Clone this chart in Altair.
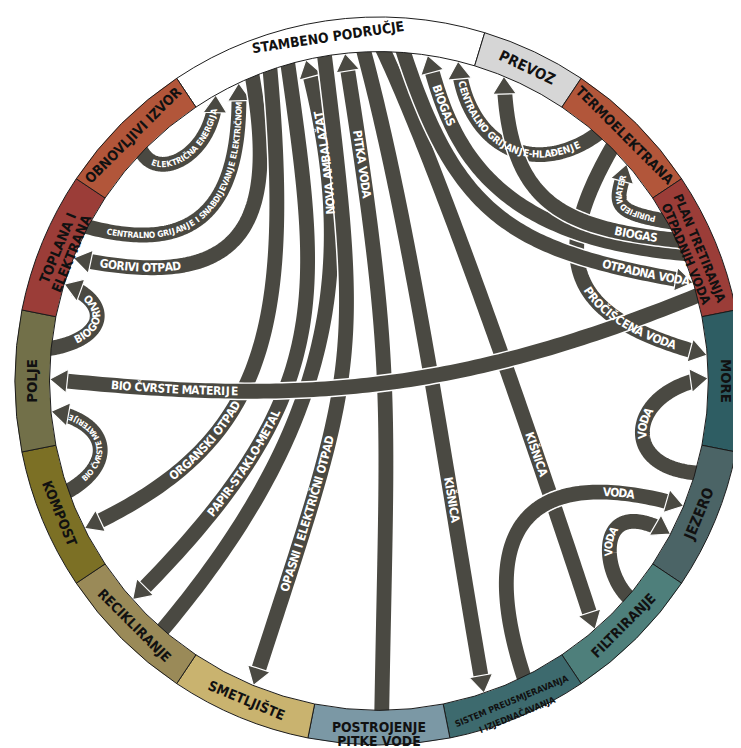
import math
import altair as alt
import pandas as pd

# ---------------- data ----------------
node_text = ["STAMBENO PODRUČJE", "PREVOZ", "TERMOELEKTRANA", "PLAN TRETIRANJA\nOTPADNIH VODA",
             "MORE", "JEZERO", "FILTRIRANJE", "SISTEM PREUSMJERAVANJA\nI IZJEDNAČAVANJA",
             "POSTROJENJE\nPITKE VODE", "SMETLJIŠTE", "RECIKLIRANJE", "KOMPOST", "POLJE",
             "TOPLANA I\nELEKTRANA", "OBNOVLJIVI IZVOR"]
node_colors = ["#ffffff", "#d6d6d6", "#b2563a", "#9b3d38", "#2e5d63", "#4b6466", "#4e7f7b",
               "#3d6a6e", "#7b98a5", "#c9b36f", "#9a8a58", "#7c7025", "#727049", "#9b3d38", "#b2563a"]
node_start = [326.25, 16.9, 33.75, 56.25, 78.75, 101.25, 123.75, 146.25, 168.75,
              191.25, 213.75, 236.25, 258.75, 281.25, 303.75]
node_font = [14, 15, 14, 13, 15, 15, 14, 9, 14, 14, 14, 14, 15, 14, 14]

flow_label = ["CENTRALNO GRIJANJE-HLAĐENJE", "PURIFIED WATER", "ELEKTRIČNA ENERGIJA",
              "CENTRALNO GRIJANJE I SNABDIJEVANJE ELEKTRIČNOM", "BIOGORIVO", "BIO ČVRSTE MATERIJE",
              "GORIVI OTPAD", "ORGANSKI OTPAD", "PAPIR-STAKLO-METAL", "NOVA AMBALAŽAT",
              "OPASNI I ELEKTRIČNI OTPAD", "PITKA VODA", "KIŠNICA", "KIŠNICA", "PROČIŠĆENA VODA",
              "OTPADNA VODA", "BIOGAS", "BIOGAS", "BIO ČVRSTE MATERIJE", "VODA", "VODA", "VODA"]
flow_source = ["TERMOELEKTRANA", "PLAN TRETIRANJA", "OBNOVLJIVI IZVOR", "TOPLANA I ELEKTRANA", "POLJE",
               "KOMPOST", "STAMBENO PODRUČJE", "STAMBENO PODRUČJE", "STAMBENO PODRUČJE", "RECIKLIRANJE",
               "STAMBENO PODRUČJE", "POSTROJENJE PITKE VODE", "STAMBENO PODRUČJE", "STAMBENO PODRUČJE",
               "TERMOELEKTRANA", "STAMBENO PODRUČJE", "PLAN TRETIRANJA", "PLAN TRETIRANJA",
               "PLAN TRETIRANJA", "JEZERO", "FILTRIRANJE", "SISTEM PREUSMJERAVANJA"]
flow_target = ["STAMBENO PODRUČJE", "TERMOELEKTRANA", "STAMBENO PODRUČJE", "STAMBENO PODRUČJE",
               "TOPLANA I ELEKTRANA", "POLJE", "TOPLANA I ELEKTRANA", "KOMPOST", "RECIKLIRANJE",
               "STAMBENO PODRUČJE", "SMETLJIŠTE", "STAMBENO PODRUČJE", "SISTEM PREUSMJERAVANJA",
               "FILTRIRANJE", "MORE", "PLAN TRETIRANJA", "STAMBENO PODRUČJE", "PREVOZ", "POLJE",
               "MORE", "JEZERO", "JEZERO"]

# ---------------- layout (ring angles, handle directions/lengths) ----------------
lay_a0 = [41.5, 61.0, 314.0, 297.9, 275.7, 250.5, 337.4, 340.7, 343.96, 221.0, 350.5, 179.5,
          357.4, 0.86, 45.0, 4.3, 67.2, 64.7, 75.0, 106.2, 130.9, 153.9]
lay_a1 = [13.9, 48.8, 330.3, 334.8, 287.1, 264.7, 291.9, 243.4, 228.4, 347.2, 202.4, 354.1,
          161.4, 139.0, 85.5, 72.6, 8.5, 22.3, 270.3, 89.5, 117.7, 112.3]
lay_d0 = [145, 190, 60, 15, -10, -30, 80, 85, 82, -50, 83, -89, 75, 65, 120, 72, 185, 186, 158, 185, 225, -108]
lay_l0 = [84, 62, 35, 110, 58, 58, 160, 275, 243, 267, 322, 321, 195, 150, 146, 181, 206, 119, 260, 80, 40, 151]
lay_d1 = [-95, -75, -88, -92, 200, 190, 192, 155, 135, -105, 108, -99, 80, 72, 15, 10, -105, -92, 186, -8, 30, 16]
lay_l1 = [81, 40, 60, 130, 52, 58, 170, 197, 290, 214, 339, 325, 193, 144, 131, 180, 82, 128, 260, 80, 87, 172]
lay_t = [0.5, 0.5, 0.5, 0.5, 0.5, 0.5, 0.8, 0.72, 0.7, 0.83, 0.72, 0.83, 0.7, 0.7, 0.7, 0.88, 0.85, 0.15,
         0.81, 0.5, 0.45, 0.8]
lay_fs = [10, 8.5, 8.5, 8.5, 11, 8, 12, 12, 12, 12, 12, 12, 12, 12, 12, 12, 12, 12, 12, 12, 11, 12]
lay_rev = [1, 0, 0, 0, 0, 0, 1, 1, 1, 0, 1, 1, 0, 0, 0, 0, 1, 1, 1, 0, 0, 0]

CX, CY = 383.0, 381.0
R_OUT, R_IN = 368.0, 333.0
FLOW_COLOR = "#4a4942"
FONT = "Liberation Sans Narrow, Arial Narrow, DejaVu Sans Condensed, sans-serif"
XS = alt.Scale(domain=[8, 741], nice=False, zero=False)
YS = alt.Scale(domain=[8, 748], nice=False, zero=False, reverse=True)

CW = {'A': 722, 'B': 722, 'C': 722, 'D': 722, 'E': 667, 'F': 611, 'G': 778, 'H': 722, 'I': 278,
      'J': 556, 'K': 722, 'L': 611, 'M': 833, 'N': 722, 'O': 778, 'P': 667, 'Q': 778, 'R': 722,
      'S': 667, 'T': 611, 'U': 722, 'V': 667, 'W': 944, 'X': 667, 'Y': 667, 'Z': 611, ' ': 278, '-': 333}
BASE = {'Č': 'C', 'Ć': 'C', 'Š': 'S', 'Ž': 'Z', 'Đ': 'D'}


def cw(ch):
    return CW.get(BASE.get(ch, ch), 600) / 1000 * 0.82


def ring_pt(a, r):
    t = math.radians(a)
    return (CX + r * math.sin(t), CY - r * math.cos(t))


def unit(d):
    r = math.radians(d)
    return (math.cos(r), math.sin(r))


def bez(p0, p1, p2, p3, n=400):
    pts = []
    for i in range(n + 1):
        t = i / n
        m = 1 - t
        a, b, c, d = m ** 3, 3 * m * m * t, 3 * m * t * t, t ** 3
        pts.append((a * p0[0] + b * p1[0] + c * p2[0] + d * p3[0],
                    a * p0[1] + b * p1[1] + c * p2[1] + d * p3[1]))
    return pts


def cumlen(pts):
    c = [0.0]
    for i in range(1, len(pts)):
        c.append(c[-1] + math.hypot(pts[i][0] - pts[i - 1][0], pts[i][1] - pts[i - 1][1]))
    return c


def at(pts, cum, s):
    s = max(0.0, min(cum[-1], s))
    for i in range(1, len(cum)):
        if cum[i] >= s:
            seg = cum[i] - cum[i - 1]
            f = 0 if seg == 0 else (s - cum[i - 1]) / seg
            x = pts[i - 1][0] + f * (pts[i][0] - pts[i - 1][0])
            y = pts[i - 1][1] + f * (pts[i][1] - pts[i - 1][1])
            d = math.degrees(math.atan2(pts[i][1] - pts[i - 1][1], pts[i][0] - pts[i - 1][0]))
            return x, y, d
    x, y = pts[-1]
    return x, y, 0.0


layers = []
chars = []
ARROW = "M0,-1L1,0.5L-1,0.5Z"
for i in range(len(flow_label)):
    p0 = ring_pt(lay_a0[i], R_IN)
    p3 = ring_pt(lay_a1[i], R_IN)
    u0, u1 = unit(lay_d0[i]), unit(lay_d1[i])
    p1 = (p0[0] + lay_l0[i] * u0[0], p0[1] + lay_l0[i] * u0[1])
    p2 = (p3[0] - lay_l1[i] * u1[0], p3[1] - lay_l1[i] * u1[1])
    pts = bez(p0, p1, p2, p3)
    cum = cumlen(pts)
    L = cum[-1]
    shaft = [(p0[0] - 6 * u0[0], p0[1] - 6 * u0[1])]
    for k in range(0, len(pts), 4):
        if cum[k] <= L - 12:
            shaft.append(pts[k])
    ex, ey, _ = at(pts, cum, L - 12)
    shaft.append((ex, ey))
    sdf = pd.DataFrame({"x": [p[0] for p in shaft], "y": [p[1] for p in shaft],
                        "o": list(range(len(shaft)))})
    enc = dict(x=alt.X("x:Q", scale=XS, axis=None), y=alt.Y("y:Q", scale=YS, axis=None),
               order="o:Q")
    layers.append(alt.Chart(sdf).mark_line(color="white", strokeWidth=18, strokeCap="butt",
                                           strokeJoin="round").encode(**enc))
    layers.append(alt.Chart(sdf).mark_line(color=FLOW_COLOR, strokeWidth=15, strokeCap="butt",
                                           strokeJoin="round").encode(**enc))
    adf = pd.DataFrame({"x": [p3[0] - 12 * u1[0]], "y": [p3[1] - 12 * u1[1]],
                        "ang": [(lay_d1[i] + 90) % 360]})
    layers.append(alt.Chart(adf).mark_point(shape=ARROW, size=576, filled=True, fill=FLOW_COLOR,
                                            stroke="white", strokeWidth=1.2, opacity=1).encode(
        x=alt.X("x:Q", scale=XS, axis=None), y=alt.Y("y:Q", scale=YS, axis=None),
        angle=alt.Angle("ang:Q", scale=None)))
    # label characters along the path
    fs = lay_fs[i]
    track = 0.07 * fs
    txt = flow_label[i]
    ws = [cw(c) * fs + track for c in txt]
    W = sum(ws) - track
    rev = lay_rev[i]
    sc = (1 - lay_t[i]) * L if rev else lay_t[i] * L
    s = sc - W / 2
    for c, w in zip(txt, ws):
        sm = s + (w - track) / 2
        s += w
        if c == " ":
            continue
        if rev:
            x, y, d = at(pts, cum, L - sm)
            d += 180
        else:
            x, y, d = at(pts, cum, sm)
        chars.append({"x": x, "y": y, "ang": d % 360, "ch": c, "fs": fs})

cdf = pd.DataFrame(chars)
layers.append(alt.Chart(cdf).mark_text(font=FONT, fontWeight="bold", color="white", align="center",
                                       baseline="middle").encode(
    x=alt.X("x:Q", scale=XS, axis=None), y=alt.Y("y:Q", scale=YS, axis=None),
    text="ch:N", angle=alt.Angle("ang:Q", scale=None), size=alt.Size("fs:Q", scale=None)))

# ---------------- ring ----------------
node_end = node_start[1:] + [node_start[0]]
ring = pd.DataFrame({"name": node_text, "a0": node_start,
                     "a1": [e if e > s else e + 360 for s, e in zip(node_start, node_end)],
                     "color": node_colors})
layers.append(alt.Chart(ring).mark_arc(radius=R_OUT, radius2=R_IN, stroke="#1a1a1a",
                                       strokeWidth=1).encode(
    theta=alt.Theta("a0:Q", scale=alt.Scale(domain=[0, 360], range=[0, 2 * math.pi]), stack=None),
    theta2="a1:Q",
    fill=alt.Fill("color:N", scale=None),
    x=alt.value(CX - 8), y=alt.value(CY - 8)))

lab = []
for nm, a0, a1, f in zip(node_text, ring["a0"], ring["a1"], node_font):
    mid = ((a0 + a1) / 2) % 360
    x, y = ring_pt(mid, (R_OUT + R_IN) / 2)
    ang = mid - 180 if 90 < mid < 270 else mid
    lab.append({"x": x, "y": y, "t": nm, "ang": ang % 360, "fs": f})
layers.append(alt.Chart(pd.DataFrame(lab)).mark_text(font=FONT, fontWeight="bold", color="#111111",
                                                     align="center", baseline="middle",
                                                     lineBreak="\n", lineHeight=15).encode(
    x=alt.X("x:Q", scale=XS, axis=None), y=alt.Y("y:Q", scale=YS, axis=None),
    text="t:N", angle=alt.Angle("ang:Q", scale=None), size=alt.Size("fs:Q", scale=None)))

chart = alt.layer(*layers).properties(
    width=733, height=740, padding=0, autosize=alt.AutoSizeParams(type="none"),
    background="white").configure_view(stroke=None)

chart.save("out.html", embed_options={"renderer": "svg", "actions": False})
